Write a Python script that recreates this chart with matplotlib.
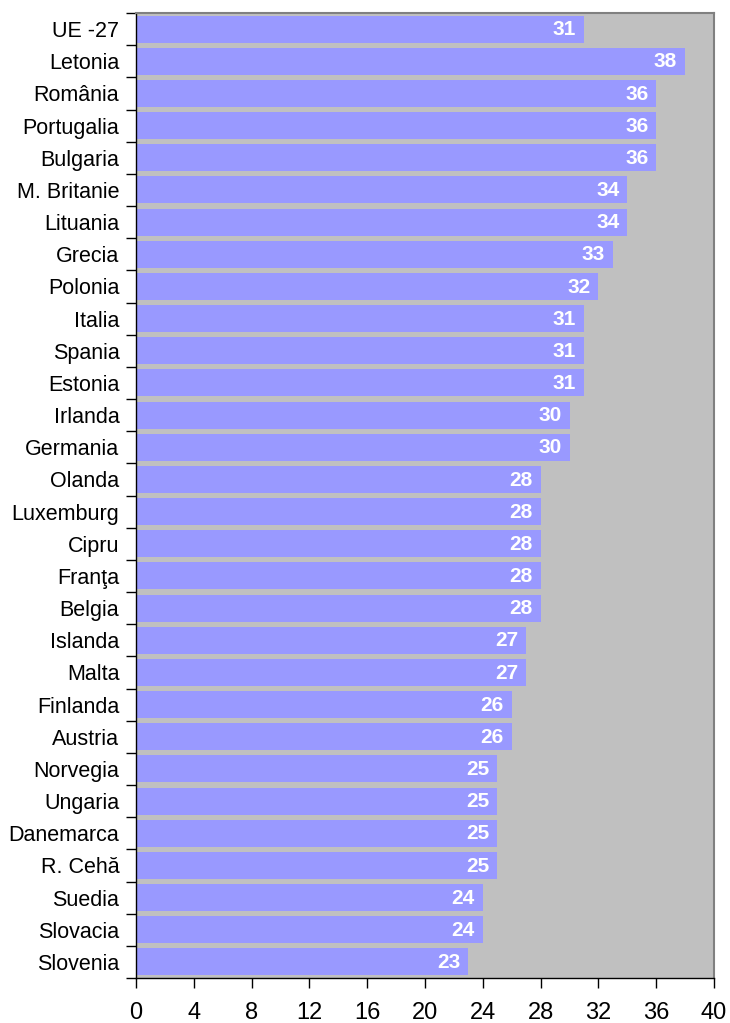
import matplotlib
matplotlib.use("Agg")
import matplotlib.pyplot as plt
import numpy as np

countries = ["UE -27", "Letonia", "România", "Portugalia", "Bulgaria", "M. Britanie",
             "Lituania", "Grecia", "Polonia", "Italia", "Spania", "Estonia", "Irlanda",
             "Germania", "Olanda", "Luxemburg", "Cipru", "Franţa", "Belgia", "Islanda",
             "Malta", "Finlanda", "Austria", "Norvegia", "Ungaria", "Danemarca",
             "R. Cehă", "Suedia", "Slovacia", "Slovenia"]
values = [31, 38, 36, 36, 36, 34, 34, 33, 32, 31, 31, 31, 30, 30, 28, 28, 28, 28, 28,
          27, 27, 26, 26, 25, 25, 25, 25, 24, 24, 23]
xticks = [0, 4, 8, 12, 16, 20, 24, 28, 32, 36, 40]

plt.rcParams['font.family'] = ['Liberation Sans', 'DejaVu Sans']

fig = plt.figure(figsize=(7.3, 10.23), dpi=100)
ax = fig.add_axes([136/730, 1 - 978/1023, (714-136)/730, (978-13)/1023])
ax.set_facecolor('#C0C0C0')

y = np.arange(len(countries))
ax.barh(y, values, height=0.84, color='#9999FF', zorder=2)
for yi, v in zip(y, values):
    ax.text(v - 0.55, yi + 0.02, str(v), ha='right', va='center', color='white',
            fontsize=15, fontweight='bold', zorder=3)

ax.set_xlim(0, 40)
ax.set_ylim(len(countries) - 0.5, -0.5)
ax.set_xticks(xticks)
ax.set_xticklabels([str(t) for t in xticks], fontsize=17)
ax.tick_params(axis='x', direction='out', length=7, width=1, pad=10, color='black')

ax.set_yticks(y)
ax.set_yticklabels(countries, fontsize=15.5)
ax.tick_params(axis='y', which='major', length=0, pad=12)
ax.set_yticks(np.arange(-0.5, len(countries) + 0.5, 1), minor=True)
ax.tick_params(axis='y', which='minor', direction='out', length=7, width=1, color='black')

for s in ['top', 'right']:
    ax.spines[s].set_color('#808080')
    ax.spines[s].set_linewidth(1.5)
for s in ['left', 'bottom']:
    ax.spines[s].set_color('black')
    ax.spines[s].set_linewidth(1)

fig.savefig('out.png', dpi=100)
